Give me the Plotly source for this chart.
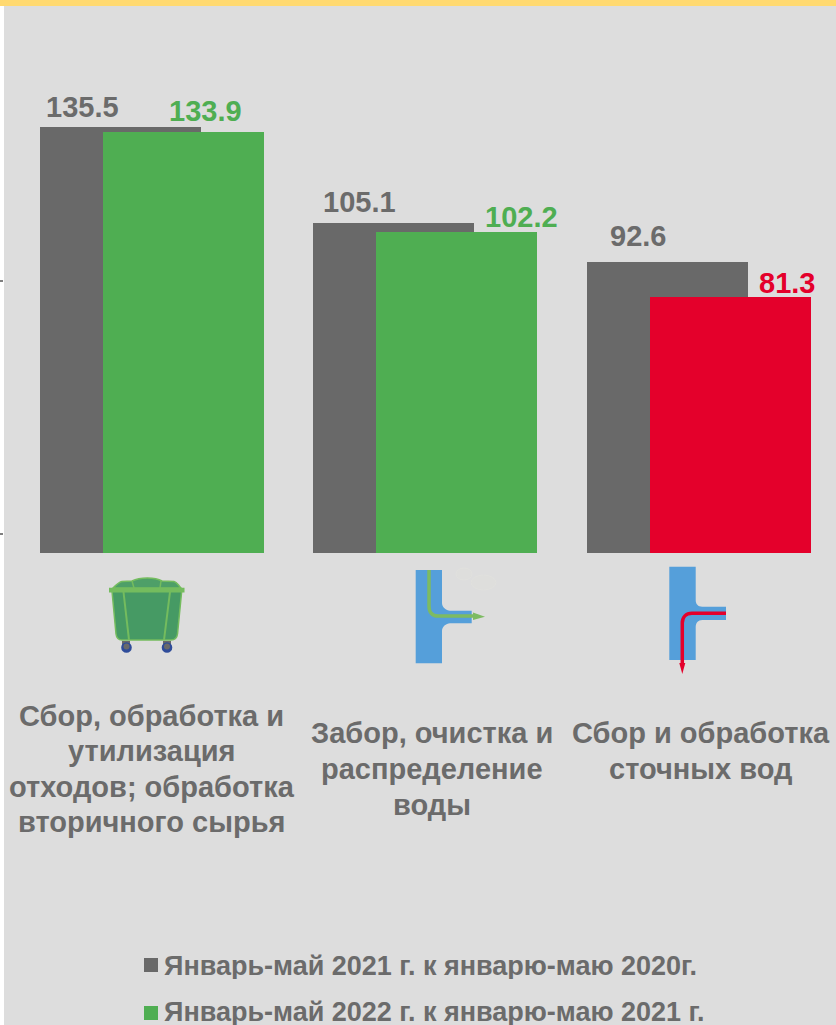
import plotly.graph_objects as go

categories = ["Сбор, обработка и<br>утилизация<br>отходов; обработка<br>вторичного сырья",
              "Забор, очистка и<br>распределение<br>воды",
              "Сбор и обработка<br>сточных вод"]
series_2021 = [135.5, 105.1, 92.6]
series_2022 = [133.9, 102.2, 81.3]
name_2021 = "Январь-май 2021 г. к январю-маю 2020г."
name_2022 = "Январь-май 2022 г. к январю-маю 2021 г."
axis_ticks = [6, 86.5]

W, H = 836, 1025
ML, MT = 4, 6
PW, PH = W - ML, H - MT
STEP = 273.5
C0 = 151.8
BASE = 553
UNIT = 426 / 135.5
FONT = "Liberation Sans, Arial, sans-serif"
GRAY, GREEN, RED = "#696969", "#4FAE52", "#E4002B"
TEXTGRAY = "#6B6B6B"
BLUE = "#559FDA"
LGREEN = "#7DBB62"


def px(x):
    return (x - ML) / PW


def py(y):
    return 1 - (y - MT) / PH


def path(cmds):
    out = []
    for c in cmds:
        if c == "Z":
            out.append("Z")
        elif c[0] == "C":
            out.append("C" + " ".join(f"{px(a):.5f},{py(b):.5f}" for a, b in c[1:]))
        else:
            for a, b in c[1:]:
                out.append(f"{c[0]}{px(a):.5f},{py(b):.5f}")
    return " ".join(out)


def pshape(cmds, fill=None, line=None, lw=0):
    return dict(type="path", xref="paper", yref="paper", path=path(cmds),
                fillcolor=fill or "rgba(0,0,0,0)",
                line=dict(color=line or "rgba(0,0,0,0)", width=lw))


def rect(x0, y0, x1, y1, fill):
    return dict(type="rect", xref="paper", yref="paper", x0=px(x0), x1=px(x1),
                y0=py(y1), y1=py(y0), fillcolor=fill, line=dict(width=0))


def circ(cx, cy, r, fill):
    return dict(type="circle", xref="paper", yref="paper", x0=px(cx - r), x1=px(cx + r),
                y0=py(cy + r), y1=py(cy - r), fillcolor=fill, line=dict(width=0))


colors_2022 = [GREEN, GREEN, RED]

fig = go.Figure()
fig.add_bar(x=categories, y=series_2021, name=name_2021, marker=dict(color=GRAY, line=dict(width=0)),
            width=161 / STEP, offset=-112 / STEP, showlegend=False)
fig.add_bar(x=categories, y=series_2022, name=name_2022, marker=dict(color=colors_2022, line=dict(width=0)),
            width=161 / STEP, offset=-49 / STEP, showlegend=False)

ann = []
shift_2021 = [(-69, 20), (-66, 21), (-61, 26)]
shift_2022 = [(54, 21), (96, 15), (88, 14)]
for i in range(3):
    ann.append(dict(x=i, y=series_2021[i], xref="x", yref="y", text=f"{series_2021[i]:.1f}", showarrow=False,
                    xshift=shift_2021[i][0], yshift=shift_2021[i][1], xanchor="center", yanchor="middle",
                    font=dict(family=FONT, size=29, color=TEXTGRAY, weight="bold")))
    ann.append(dict(x=i, y=series_2022[i], xref="x", yref="y", text=f"{series_2022[i]:.1f}", showarrow=False,
                    xshift=shift_2022[i][0], yshift=shift_2022[i][1], xanchor="center", yanchor="middle",
                    font=dict(family=FONT, size=29, color=colors_2022[i], weight="bold")))

label_pos = [(151.5, 716, 35.4), (431.5, 733, 36), (700.5, 733, 36)]
for i, cat in enumerate(categories):
    for j, line in enumerate(cat.split("<br>")):
        ann.append(dict(x=px(label_pos[i][0]), y=py(label_pos[i][1] + j * label_pos[i][2]), xref="paper", yref="paper",
                        text=line, showarrow=False, xanchor="center", yanchor="middle", align="center",
                        font=dict(family=FONT, size=29, color=TEXTGRAY, weight="bold")))

for nm, yc in ((name_2021, 966), (name_2022, 1012)):
    ann.append(dict(x=px(163), y=py(yc), xref="paper", yref="paper", text=nm, showarrow=False,
                    xanchor="left", yanchor="middle", borderpad=0, height=26,
                    font=dict(family=FONT, size=27, color=TEXTGRAY, weight="bold")))

shapes = [
    # top band
    dict(type="rect", xref="paper", yref="paper", x0=px(0), x1=1, y0=1, y1=py(0),
         fillcolor="#FFD970", line=dict(width=0)),
    # legend swatches
    rect(144, 958, 158, 972, GRAY),
    rect(144, 1006, 158, 1020, GREEN),
]

# bin icon
BIN, BINL = "#469A64", "#74BC5E"
shapes += [
    rect(122, 641, 130, 648, "#6A6A6A"),
    rect(163, 641, 171, 648, "#6A6A6A"),
    circ(126.5, 647.5, 5.3, "#2F4C9A"),
    circ(167, 647.5, 5.3, "#2F4C9A"),
    circ(126.5, 646.5, 3, "#6A6A6A"),
    circ(167, 646.5, 3, "#6A6A6A"),
    pshape([("M", (112, 591)), ("L", (181.7, 591), (177.5, 634)),
            ("C", (177, 638), (174, 640), (171, 640)), ("L", (122, 640)),
            ("C", (119, 640), (116.5, 638), (116, 634)), "Z"], BIN, BINL, 1.5),
    pshape([("M", (113, 588)), ("C", (117, 584), (119, 582), (122, 581.5)), ("L", (132, 581)),
            ("C", (140, 577), (155, 577), (162, 581)), ("L", (174, 581.5)),
            ("C", (177, 582), (178, 585), (181, 588)), "Z"], "#4E9F68", BINL, 1.5),
    rect(109, 587.7, 184.5, 592.5, BINL),
    pshape([("M", (123.5, 592)), ("L", (129, 640))], None, BINL, 2),
    pshape([("M", (170, 592)), ("L", (164, 640))], None, BINL, 2),
    pshape([("M", (132, 581)), ("L", (134, 588))], None, BINL, 1.5),
    pshape([("M", (161, 581)), ("L", (160, 588))], None, BINL, 1.5),
]

# intake pipe icon
shapes += [
    pshape([("M", (415.7, 570)), ("L", (442, 570), (442, 603)),
            ("C", (442, 607), (446, 610.7), (450, 610.7)), ("L", (471.7, 610.7), (471.7, 623.3), (450, 623.3)),
            ("C", (446, 623.3), (442, 627), (442, 631)), ("L", (442, 663.3), (415.7, 663.3)), "Z"], BLUE),
    pshape([("M", (429, 570)), ("L", (429, 606)), ("C", (429, 612), (432, 616), (438, 616)), ("L", (474, 616))],
           None, LGREEN, 3.5),
    pshape([("M", (473, 612.5)), ("L", (485, 616.7), (473, 620)), "Z"], LGREEN),
    dict(type="circle", xref="paper", yref="paper", x0=px(456), x1=px(472), y0=py(580), y1=py(568),
         fillcolor="#DEDEDC", line=dict(color="#E1E1DE", width=1)),
    dict(type="circle", xref="paper", yref="paper", x0=px(471), x1=px(496), y0=py(590), y1=py(575),
         fillcolor="#DEDEDC", line=dict(color="#E1E1DE", width=1)),
]

# discharge pipe icon
shapes += [
    pshape([("M", (669.3, 566.7)), ("L", (695.7, 566.7), (695.7, 600)),
            ("C", (695.7, 604), (698, 606.7), (702.3, 606.7)), ("L", (726, 606.7), (726, 620), (702.3, 620)),
            ("C", (698, 620), (695.7, 623), (695.7, 627.3)), ("L", (695.7, 660), (669.3, 660)), "Z"], BLUE),
    pshape([("M", (726, 613.3)), ("L", (692, 613.3)), ("C", (686, 613.3), (682.3, 617), (682.3, 623)),
            ("L", (682.3, 664))], None, RED, 3.5),
    pshape([("M", (679.3, 663)), ("L", (682.3, 674), (685.3, 663)), "Z"], RED),
]

fig.update_layout(
    width=W, height=H, autosize=False,
    margin=dict(l=ML, r=0, t=MT, b=0, pad=0),
    paper_bgcolor="white", plot_bgcolor="#DDDDDD",
    barmode="overlay", bargap=0,
    annotations=ann, shapes=shapes,
    showlegend=False,
    xaxis=dict(type="category", categoryorder="array", categoryarray=categories,
               range=[(ML - C0) / STEP, (W - C0) / STEP], showticklabels=False, ticks="",
               showgrid=False, zeroline=False, showline=False),
    yaxis=dict(range=[-(H - BASE) / UNIT, (BASE - MT) / UNIT], tickvals=axis_ticks, ticks="outside",
               ticklen=4, tickwidth=2, tickcolor="#7F7F7F", showticklabels=False,
               showgrid=False, zeroline=False, showline=False),
)
fig.write_html("out.html", config=dict(displayModeBar=False),
               post_script="document.body.style.margin='0';document.body.style.overflow='hidden';")
